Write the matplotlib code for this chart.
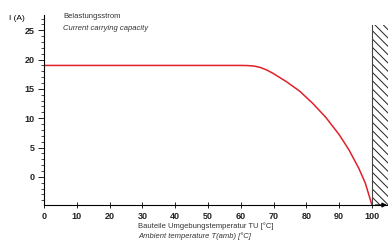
import numpy as np
import matplotlib
matplotlib.use("Agg")
import matplotlib.pyplot as plt

# current carrying capacity vs ambient temperature
temp = [0, 60, 62, 64, 66, 68, 70, 74, 78, 82, 86, 90, 93, 96, 98, 100]
current = [19.0, 19.0, 18.98, 18.9, 18.65, 18.2, 17.6, 16.2, 14.6, 12.5, 10.1, 7.2,
           4.6, 1.45, -1.1, -4.8]

x_ticks = [0, 10, 20, 30, 40, 50, 60, 70, 80, 90, 100]
y_ticks = [0, 5, 10, 15, 20, 25]

plt.rcParams['font.family'] = ['Liberation Sans', 'DejaVu Sans']
plt.rcParams['hatch.linewidth'] = 0.7

fig = plt.figure(figsize=(3.88, 2.41), dpi=100)
ax = fig.add_axes([44 / 388, 36 / 241, 344 / 388, 190 / 241])

ax.plot(temp, current, color='#e0202a', lw=1.1, solid_capstyle='butt')

# forbidden zone above 100 °C
ax.fill_between([100, 106], -4.8, 25.9, facecolor='none', edgecolor='#222222',
                hatch='\\\\\\\\', lw=0)
ax.plot([100, 100], [-4.8, 25.9], color='#444444', lw=0.8)

ax.set_xlim(0, 104.9)
ax.set_ylim(-4.8, 27.6)
for s in ['top', 'right']:
    ax.spines[s].set_visible(False)
ax.spines['left'].set_linewidth(0.8)
ax.spines['bottom'].set_linewidth(0.8)

# arrow at end of x axis
ax.annotate('', xy=(104.6, -4.8), xytext=(101, -4.8),
            arrowprops=dict(arrowstyle='-|>', color='black', lw=0.8,
                            mutation_scale=7, shrinkA=0, shrinkB=0),
            annotation_clip=False)

ax.set_xticks(x_ticks)
ax.set_yticks(y_ticks)
ax.set_yticks(np.arange(-4, 28, 1), minor=True)
ax.tick_params(axis='x', direction='inout', length=4, width=0.6, labelsize=6.5, pad=3)
ax.tick_params(axis='y', which='major', direction='out', length=4, width=0.6,
               labelsize=6.5, pad=3)
ax.tick_params(axis='y', which='minor', direction='out', length=2.5, width=0.5)
for lab in ax.get_xticklabels() + ax.get_yticklabels():
    lab.set_fontweight('bold')
    lab.set_color('#222222')

fig.text(9 / 388, 1 - 19 / 241, 'I (A)', fontsize=6, va='center', ha='left')
fig.text(63 / 388, 1 - 16 / 241, 'Belastungsstrom', fontsize=5.5, va='center', ha='left',
         color='#333333')
fig.text(63 / 388, 1 - 28 / 241, 'Current carrying capacity', fontsize=5.5, va='center',
         ha='left', style='italic', color='#333333')
fig.text(138 / 388, 1 - 226 / 241, 'Bauteile Umgebungstemperatur TU [°C]', fontsize=5.5,
         va='center', ha='left', color='#333333')
fig.text(138 / 388, 1 - 236 / 241, 'Ambient temperature T(amb) [°C]', fontsize=5.5,
         va='center', ha='left', style='italic', color='#333333')

fig.savefig('out.png', dpi=100)
